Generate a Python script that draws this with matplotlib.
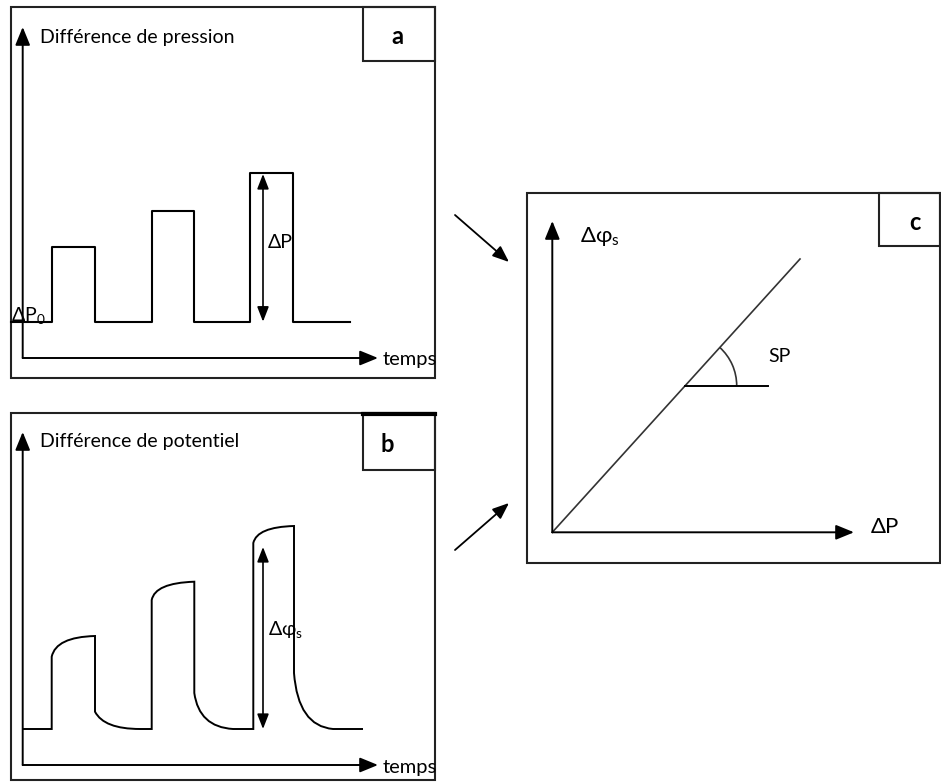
import matplotlib.pyplot as plt
from matplotlib.patches import Rectangle, Arc, PathPatch
from matplotlib.path import Path

plt.rcParams["font.family"] = ["Lato", "DejaVu Sans"]

# panel a: pressure steps (pixel units of the sketch)
a_edges = [10.7, 51.7, 95, 151.7, 194, 249.7, 292.7, 350]
a_base = 321.7
a_tops = [247, 211, 173]

# panel b: potential response, one entry per pulse
b_base = 729
b_start = [23, 51.7, 151.7, 253.3]      # flat start, then rise times
b_rise = [656.7, 600, 543]              # level right after the rise
b_ctrl_up = [(56, 637), (155, 583), (257, 527)]
b_peak = [(95, 636), (194.3, 581.7), (294, 526)]
b_drop = [711.7, 693, 673]              # level right after the fall
b_ctrl_dn = [(104, 729), (199, 727), (298, 726)]
b_settle = [140, 233, 333]
b_end = 363

# panel c: linear relation
c_origin = (552.3, 532.3)
c_line_end = (800, 259)
c_angle_at = (685, 385.7)
c_slope_deg = 47.8

fig = plt.figure(figsize=(9.41, 7.82), dpi=100)
ax = fig.add_axes([0, 0, 1, 1])
ax.set_xlim(0, 941)
ax.set_ylim(782, 0)
ax.axis("off")

K = "black"


def arrow(tail, tip, lw=1.4, hl=1.1, hw=0.45, style="-|>", color=K):
    ax.annotate("", xy=tip, xytext=tail,
                arrowprops=dict(arrowstyle=f"{style},head_length={hl},head_width={hw}",
                                lw=lw, color=color, shrinkA=0, shrinkB=0))


def frame(x0, y0, x1, y1, lx0, ly1, label, lx, ly):
    r = Rectangle((x0, y0), x1 - x0, y1 - y0, fill=False, lw=1.5, ec="#222222")
    ax.add_patch(r)
    ax.add_patch(Rectangle((lx0, y0), x1 - lx0, ly1 - y0, fill=False, lw=1.5, ec="#222222"))
    ax.text(lx, ly, label, fontsize=17, fontweight="bold", ha="center", va="center")
    return r


# ---- panel a ----
fa = frame(10.7, 6.7, 435, 378, 363, 61, "a", 397, 36)
arrow((22.7, 358), (22.7, 27))
arrow((22.7, 358), (378, 358))
t = ax.text(383, 360, "temps", fontsize=14.5, va="center", ha="left")
t.set_clip_path(fa)
ax.text(40, 38, "Différence de pression", fontsize=14, va="center")

xs, ys = [a_edges[0]], [a_base]
for i, top in enumerate(a_tops):
    x0, x1 = a_edges[1 + 2 * i], a_edges[2 + 2 * i]
    xs += [x0, x0, x1, x1]
    ys += [a_base, top, top, a_base]
xs.append(a_edges[-1])
ys.append(a_base)
ax.plot(xs, ys, color=K, lw=1.5)
arrow((263, a_tops[-1] + 1), (263, a_base), lw=1.2, hl=0.9, hw=0.35, style="<|-|>")
ax.text(268, 242, "ΔP", fontsize=14, va="center")
ax.text(11, 316, "ΔP$_\\mathregular{0}$", fontsize=14, va="center")

# ---- panel b ----
fb = frame(10.7, 413.3, 435, 780, 363, 470, "b", 387, 445)
ax.plot([363, 435], [414, 414], color=K, lw=3)
arrow((22.7, 765), (22.7, 432))
arrow((22.7, 765), (378, 765))
t = ax.text(383, 767, "temps", fontsize=14.5, va="center", ha="left")
t.set_clip_path(fb)
ax.text(40, 442, "Différence de potentiel", fontsize=14, va="center")

verts = [(b_start[0], b_base)]
codes = [Path.MOVETO]
for i in range(3):
    xr = b_start[i + 1]
    verts += [(xr, b_base), (xr, b_rise[i]), b_ctrl_up[i], b_peak[i],
              (b_peak[i][0], b_drop[i]), b_ctrl_dn[i], (b_settle[i], b_base)]
    codes += [Path.LINETO, Path.LINETO, Path.CURVE3, Path.CURVE3,
              Path.LINETO, Path.CURVE3, Path.CURVE3]
verts.append((b_end, b_base))
codes.append(Path.LINETO)
ax.add_patch(PathPatch(Path(verts, codes), fill=False, lw=1.4, ec=K))
arrow((263, 547), (263, b_base), lw=1.2, hl=0.9, hw=0.35, style="<|-|>")
ax.text(268, 630, "Δφ$_\\mathregular{s}$", fontsize=14, va="center")

# ---- panel c ----
frame(526.7, 193.3, 940, 562.7, 879.3, 245.7, "c", 915, 222)
arrow(c_origin, (c_origin[0], 221))
arrow(c_origin, (854, c_origin[1]))
ax.plot([c_origin[0], c_line_end[0]], [c_origin[1], c_line_end[1]], color="#333333", lw=1.2)
ax.plot([c_angle_at[0], 768.3], [c_angle_at[1], c_angle_at[1]], color=K, lw=1.4)
# y axis is inverted, so the arc above the line uses negative angles
ax.add_patch(Arc(c_angle_at, 2 * 51.7, 2 * 51.7, theta1=-c_slope_deg, theta2=0,
                 lw=1.2, color="#333333"))
ax.text(768, 357, "SP", fontsize=14, va="center")
ax.text(580, 236, "Δφ$_\\mathregular{s}$", fontsize=16, va="center")
ax.text(871, 527, "ΔP", fontsize=16, va="center")

# links to panel c
arrow((455, 215), (509, 262), lw=1.3, hl=1.0, hw=0.4)
arrow((455, 550), (509, 503), lw=1.3, hl=1.0, hw=0.4)

fig.savefig("out.png", dpi=100)
